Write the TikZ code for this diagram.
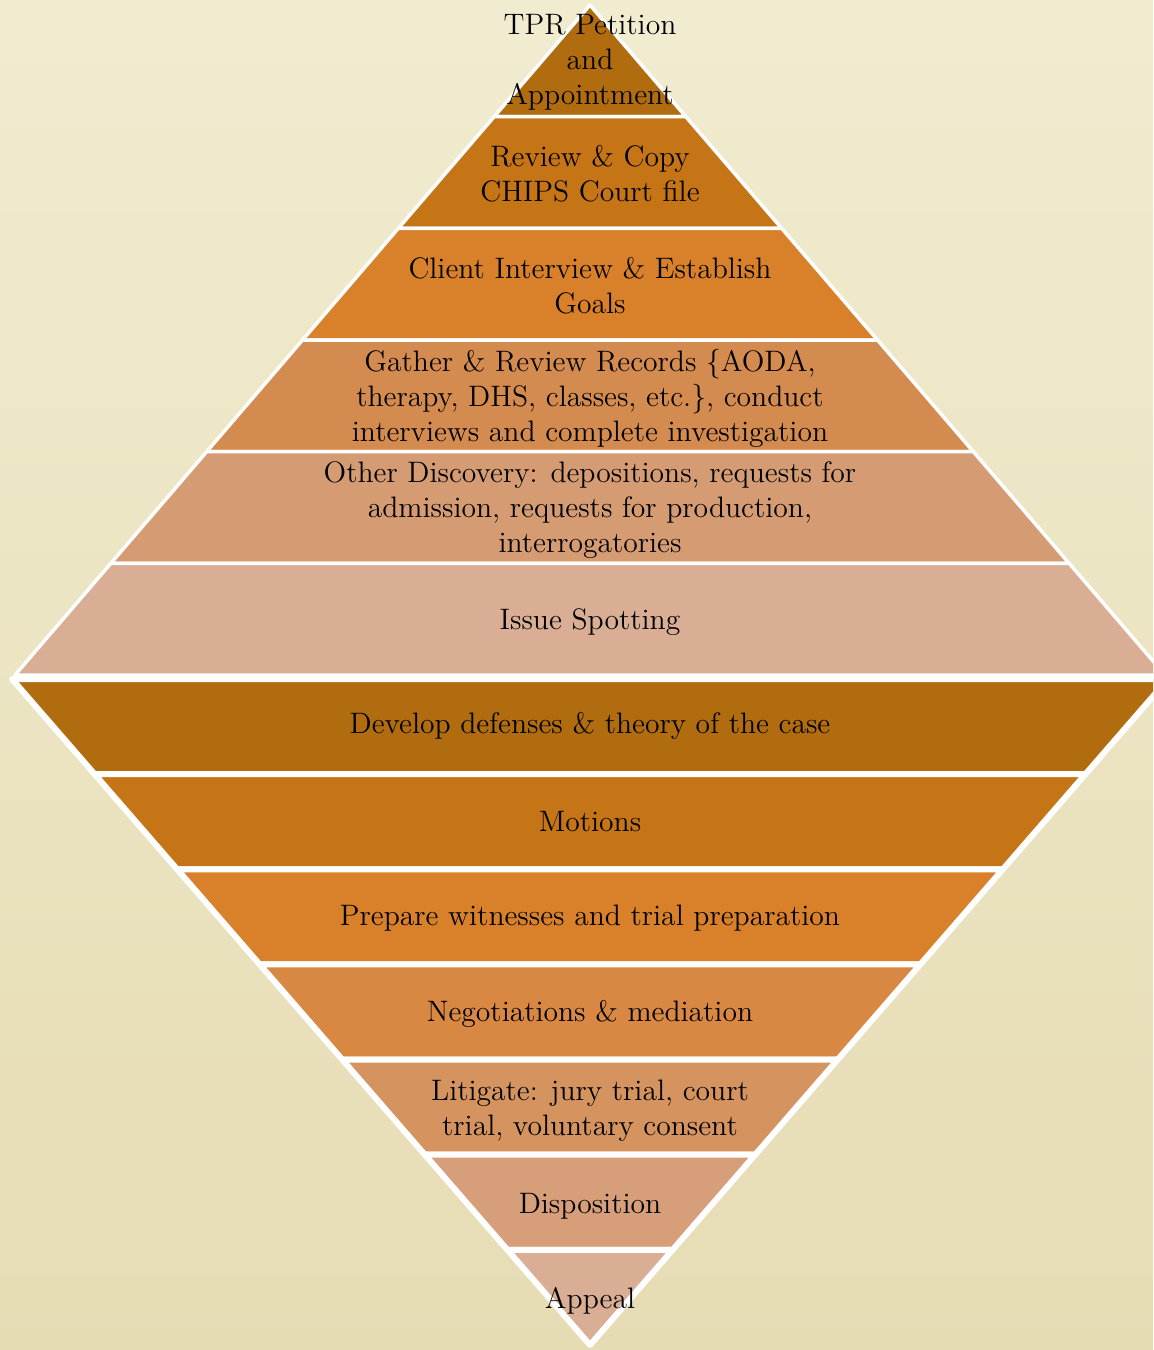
\documentclass[tikz,border=0pt]{standalone}
\definecolor{bgtop}{HTML}{F1ECD0}
\definecolor{bgmid}{HTML}{EFE8C8}
\definecolor{bgbot}{HTML}{E6DCB4}
\definecolor{ca}{HTML}{B06C0F}
\definecolor{cb}{HTML}{C57416}
\definecolor{cc}{HTML}{D9812A}
\definecolor{cd}{HTML}{D48B4F}
\definecolor{ce}{HTML}{D59C74}
\definecolor{cf}{HTML}{D9AE95}
\definecolor{ld}{HTML}{D88843}
\definecolor{le}{HTML}{D5935F}
\definecolor{lf}{HTML}{D69E79}
\tikzset{
  upperlayer/.style={draw=white, line width=1.75pt, line join=round},
  lowerlayer/.style={draw=white, line width=3pt, line join=round},
  lbl/.style={align=center, text=black, font=\fontsize{14.8}{17.5}\selectfont, inner sep=0pt}
}
\begin{document}
\begin{tikzpicture}[x=0.5pt, y=-0.5pt]
\useasboundingbox (0,0) rectangle (1153,1350);
\clip (0,0) rectangle (1153,1350);
\shade[top color=bgtop, middle color=bgmid, bottom color=bgbot] (0,0) rectangle (1153,1350);
% lower inverted pyramid
\foreach \i/\col in {0/ca,1/cb,2/cc,3/ld,4/le,5/lf,6/cf} {
  \pgfmathsetmacro\ya{679+95.143*\i}
  \pgfmathsetmacro\yb{\ya+95.143}
  \pgfmathsetmacro\wa{578/666*(1345-\ya)}
  \pgfmathsetmacro\wb{578/666*(1345-\yb)}
  \filldraw[lowerlayer, fill=\col] (590-\wa,\ya) -- (590+\wa,\ya) -- (590+\wb,\yb) -- (590-\wb,\yb) -- cycle;
}
% upper pyramid
\foreach \i/\col in {0/ca,1/cb,2/cc,3/cd,4/ce,5/cf} {
  \pgfmathsetmacro\ya{5+111.667*\i}
  \pgfmathsetmacro\yb{\ya+111.667}
  \pgfmathsetmacro\wa{575/670*(\ya-5)}
  \pgfmathsetmacro\wb{575/670*(\yb-5)}
  \filldraw[upperlayer, fill=\col] (590-\wa,\ya) -- (590+\wa,\ya) -- (590+\wb,\yb) -- (590-\wb,\yb) -- cycle;
}
% labels
\node[lbl] (t1) at (590,62) {TPR Petition\\and\\Appointment};
\node[lbl] (t2) at (590,174) {Review \& Copy\\CHIPS Court file};
\node[lbl] (t3) at (590,286) {Client Interview \& Establish\\Goals};
\node[lbl] (t4) at (590,398) {Gather \& Review Records \{AODA,\\therapy, DHS, classes, etc.\}, conduct\\interviews and complete investigation};
\node[lbl] (t5) at (590,510) {Other Discovery: depositions, requests for\\admission, requests for production,\\interrogatories};
\node[lbl] (t6) at (590,622) {Issue Spotting};
\node[lbl] (l1) at (590,726) {Develop defenses \& theory of the case};
\node[lbl] (l2) at (590,822) {Motions};
\node[lbl] (l3) at (590,918) {Prepare witnesses and trial preparation};
\node[lbl] (l4) at (590,1014) {Negotiations \& mediation};
\node[lbl] (l5) at (590,1111) {Litigate: jury trial, court\\trial, voluntary consent};
\node[lbl] (l6) at (590,1206) {Disposition};
\node[lbl] (l7) at (590,1301) {Appeal};
\end{tikzpicture}
\end{document}
